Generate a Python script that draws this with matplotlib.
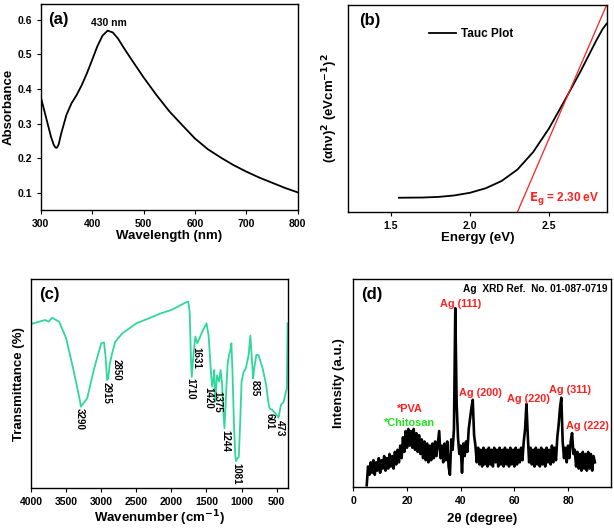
import numpy as np
import matplotlib
matplotlib.use('Agg')
import matplotlib.pyplot as plt

plt.rcParams['font.family'] = ['Liberation Sans', 'DejaVu Sans']
plt.rcParams['font.weight'] = 'bold'
plt.rcParams['axes.labelweight'] = 'bold'
plt.rcParams['axes.linewidth'] = 1.0

# (a) UV-vis absorbance
uv_wl = [300, 310, 320, 325, 328, 330, 332, 335, 340, 350, 360, 370, 380, 390, 400,
         410, 420, 430, 440, 450, 460, 475, 500, 525, 550, 575, 600, 625, 650, 675,
         700, 725, 750, 775, 800]
uv_abs = [0.378, 0.32, 0.262, 0.240, 0.232, 0.230, 0.231, 0.240, 0.272, 0.325, 0.359,
          0.383, 0.412, 0.446, 0.484, 0.523, 0.554, 0.569, 0.564, 0.547, 0.523, 0.489,
          0.434, 0.383, 0.336, 0.296, 0.257, 0.226, 0.202, 0.180, 0.161, 0.144, 0.129,
          0.114, 0.101]

# (b) Tauc plot
tauc_e = [1.55, 1.7, 1.8, 1.9, 2.0, 2.1, 2.2, 2.3, 2.4, 2.5, 2.6, 2.7, 2.8, 2.84, 2.87]
tauc_y = [0.069, 0.070, 0.073, 0.080, 0.093, 0.115, 0.150, 0.205, 0.29, 0.404, 0.54,
          0.68, 0.83, 0.885, 0.915]
fit_e = [2.30, 2.87]
fit_y = [0.0, 1.01]

# (c) FTIR
ir_wn = [4000, 3800, 3750, 3700, 3600, 3500, 3400, 3300, 3290, 3200, 3100, 3000, 2960,
         2940, 2915, 2900, 2880, 2850, 2800, 2700, 2500, 2300, 2150, 2000, 1800, 1760,
         1740, 1720, 1710, 1690, 1660, 1631, 1600, 1550, 1500, 1470, 1440, 1420, 1400,
         1390, 1375, 1350, 1320, 1300, 1280, 1260, 1244, 1220, 1200, 1180, 1160, 1145,
         1130, 1110, 1090, 1081, 1060, 1040, 1020, 1000, 970, 940, 900, 875, 860, 835,
         820, 790, 760, 700, 650, 620, 601, 560, 520, 473, 440, 400, 370, 355, 345]
ir_t = [78.5, 80.4, 79.6, 81.5, 79.6, 71.7, 57.3, 41.4, 39.0, 43.0, 57.3, 69.3, 69.7,
        63.7, 51.8, 52.5, 59.0, 63.7, 70.0, 74.0, 78.8, 81.5, 83.6, 85.2, 88.7, 89.2,
        84.4, 60.5, 53.3, 62.0, 72.5, 69.3, 71.7, 75.6, 78.8, 73.0, 57.3, 48.6, 52.5,
        56.5, 41.4, 54.0, 51.0, 56.5, 51.0, 36.6, 28.7, 46.0, 59.0, 63.7, 66.0, 69.3,
        55.7, 31.8, 15.9, 13.0, 14.3, 15.0, 31.8, 51.0, 55.7, 57.3, 63.7, 73.0, 65.0,
        52.5, 57.3, 63.7, 63.7, 57.3, 49.4, 41.4, 38.2, 37.4, 35.8, 33.8, 39.8, 41.4,
        46.0, 47.8, 78.8]
ir_labels = ['3290', '2915', '2850', '1710', '1631', '1420', '1375', '1244', '1081',
             '835', '601', '473']
ir_label_x = [3302, 2922, 2780, 1735, 1640, 1470, 1340, 1227, 1070, 818, 604, 452]
ir_label_y = [38.2, 51.0, 62.0, 52.5, 67.7, 48.6, 46.5, 27.9, 12.0, 51.8, 35.8, 32.6]

# (d) XRD, 5 to 90 deg in 0.5 deg steps
xrd_2t = np.arange(5.0, 90.01, 0.5)
xrd_i = [1, 10, 6, 12, 7, 13, 6, 12, 8, 14,
         7, 13, 9, 15, 8, 14, 9, 16, 10, 15,
         9, 17, 11, 18, 12, 20, 14, 24, 17, 27,
         19, 28, 20, 27, 19, 28, 18, 26, 17, 25,
         16, 23, 14, 22, 13, 21, 12, 20, 13, 21,
         14, 22, 15, 21, 27, 14, 20, 12, 21, 13,
         22, 10, 6, 23, 18, 28, 86, 40, 24, 16,
         20, 7, 21, 15, 22, 17, 28, 33, 38, 42,
         25, 20, 12, 19, 11, 18, 10, 19, 11, 18,
         10, 19, 11, 18, 10, 19, 12, 18, 10, 19,
         11, 18, 10, 19, 11, 18, 10, 19, 11, 18,
         10, 19, 11, 18, 12, 19, 13, 22, 28, 40,
         25, 12, 19, 11, 18, 10, 19, 11, 18, 10,
         19, 11, 18, 10, 19, 12, 18, 11, 20, 12,
         19, 13, 24, 30, 38, 43, 22, 14, 19, 12,
         20, 14, 22, 26, 16, 18, 10, 17, 9, 16,
         8, 17, 9, 16, 8, 17, 9, 16, 8, 15,
         12]
ag_labels = ['Ag (111)', 'Ag (200)', 'Ag (220)', 'Ag (311)', 'Ag (222)']
ag_x = [40.0, 47.3, 65.4, 80.9, 87.2]
ag_y = [88.0, 45.5, 42.5, 46.5, 29.5]

RED = '#ff2020'
fig = plt.figure(figsize=(6.14, 5.29), dpi=100)

# ---- (a)
ax = fig.add_axes([0.0663, 0.603, 0.4186, 0.3894])
ax.plot(uv_wl, uv_abs, color='black', lw=1.3)
ax.set_xlim(300, 800)
ax.set_ylim(0.05, 0.646)
ax.set_xticks([300, 400, 500, 600, 700, 800])
ax.set_yticks([0.1, 0.2, 0.3, 0.4, 0.5, 0.6])
ax.tick_params(labelsize=7.5, length=3)
ax.set_xlabel('Wavelength (nm)', fontsize=9.5, labelpad=1)
ax.set_ylabel('Absorbance', fontsize=9.5, labelpad=2)
ax.text(0.03, 0.96, '(a)', transform=ax.transAxes, fontsize=12, va='top')
ax.text(432, 0.578, '430 nm', fontsize=7.5, ha='center', va='bottom')

# ---- (b)
ax = fig.add_axes([0.5673, 0.5992, 0.4208, 0.3913])
ax.plot(tauc_e, tauc_y, color='black', lw=1.3, label='Tauc Plot')
ax.plot(fit_e, fit_y, color=RED, lw=0.9)
ax.set_xlim(1.23, 2.865)
ax.set_ylim(0, 1)
ax.set_xticks([1.5, 2.0, 2.5])
ax.set_yticks([])
ax.tick_params(labelsize=7.5, length=3)
ax.set_xlabel('Energy (eV)', fontsize=9.5, labelpad=1)
ax.set_ylabel('(αhν)$^{2}$ (eVcm$^{-1}$)$^{2}$', fontsize=9.5, labelpad=6)
ax.text(0.04, 0.96, '(b)', transform=ax.transAxes, fontsize=12, va='top')
ax.legend(loc='center left', bbox_to_anchor=(0.27, 0.86), frameon=False,
          fontsize=8.5, handlelength=2.3, handletextpad=0.4)
ax.text(2.82, 0.065, '$\\mathbf{E_g}$ = 2.30 eV', color=RED, fontsize=8.5,
        ha='right', va='center')

# ---- (c)
ax = fig.add_axes([0.0505, 0.0769, 0.419, 0.3957])
ax.plot(ir_wn, ir_t, color='#2fd89a', lw=1.3)
ax.set_xlim(4000, 335)
ax.set_ylim(0, 100)
ax.set_xticks([4000, 3500, 3000, 2500, 2000, 1500, 1000, 500])
ax.set_yticks([])
ax.tick_params(labelsize=7.5, length=3)
ax.set_xlabel('Wavenumber (cm$^{-1}$)', fontsize=9.5, labelpad=1)
ax.set_ylabel('Transmittance (%)', fontsize=9.5, labelpad=4)
ax.text(0.03, 0.96, '(c)', transform=ax.transAxes, fontsize=12, va='top')
for lab, xx, yy in zip(ir_labels, ir_label_x, ir_label_y):
    ax.text(xx, yy, lab, rotation=-90, fontsize=7, ha='center', va='top')

# ---- (d)
ax = fig.add_axes([0.5754, 0.0788, 0.4197, 0.3938])
ax.plot(xrd_2t, xrd_i, color='black', lw=1.9)
ax.set_xlim(0, 96)
ax.set_ylim(0, 100)
ax.set_xticks([0, 20, 40, 60, 80])
ax.set_yticks([])
ax.tick_params(labelsize=7.5, length=3)
ax.set_xlabel('2θ (degree)', fontsize=9.5, labelpad=5)
ax.set_ylabel('Intensity (a.u.)', fontsize=9.5, labelpad=6)
ax.text(0.03, 0.96, '(d)', transform=ax.transAxes, fontsize=12, va='top')
ax.text(0.985, 0.978, 'Ag  XRD Ref.  No. 01-087-0719', transform=ax.transAxes,
        fontsize=7.3, ha='right', va='top')
for lab, xx, yy in zip(ag_labels, ag_x, ag_y):
    ax.text(xx, yy, lab, color=RED, fontsize=7.8, ha='center', va='center')
ax.text(21.1, 37.6, '*PVA', color=RED, fontsize=7.8, ha='center', va='center')
ax.text(21.1, 31.0, '*Chitosan', color='#22e022', fontsize=7.8, ha='center', va='center')

fig.savefig('out.png', dpi=100)
